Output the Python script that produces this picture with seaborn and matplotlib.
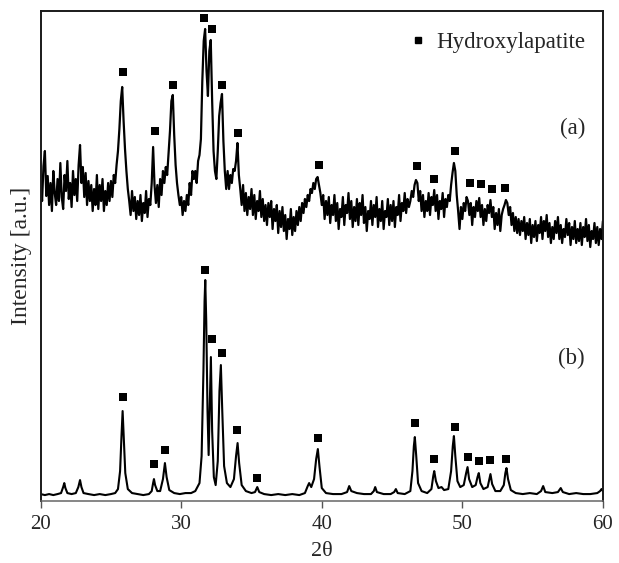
import numpy as np
import pandas as pd
import matplotlib
matplotlib.use("Agg")
import matplotlib.pyplot as plt
from matplotlib.lines import Line2D
import seaborn as sns

# ---------------- data ----------------
# trace (a): noisy pattern sampled every 0.1 deg from 20 to 60
a_counts = [
    320,300,335,350,305,325,296,318,290,330,
    308,296,322,300,338,304,292,326,310,340,
    302,318,294,330,306,322,300,336,356,318,
    334,304,328,296,320,300,316,290,312,296,
    326,292,316,300,322,290,310,296,318,300,
    320,304,326,318,336,350,372,400,414,380,
    352,330,312,300,286,310,290,304,282,300,
    286,306,280,298,288,310,284,302,296,318,
    354,316,298,316,294,322,306,330,318,334,
    326,348,370,400,406,366,336,318,306,296,
    304,286,300,290,306,296,318,306,330,322,
    330,318,340,346,362,420,460,472,430,405,
    450,461,400,350,330,322,350,385,398,407,
    360,330,312,330,312,326,318,332,330,340,
    358,326,312,296,316,290,308,286,304,292,
    312,286,306,282,300,290,310,284,302,280,
    296,276,298,284,300,272,292,280,296,268,
    290,274,294,270,286,262,282,272,292,266,
    284,270,290,276,294,280,298,288,302,294,
    306,300,312,308,318,312,322,324,316,308,
    296,306,282,300,286,304,278,296,286,306,
    280,298,272,292,284,304,276,296,288,308,
    282,300,274,294,280,302,276,298,286,306,
    278,294,270,290,282,300,276,296,284,304,
    274,292,280,300,272,290,284,302,276,296,
    280,300,274,294,286,306,280,298,290,308,
    288,302,294,300,310,304,316,321,318,300,
    310,290,306,284,300,290,308,286,304,296,
    311,290,306,282,300,292,308,284,302,294,
    306,300,316,328,338,330,306,290,272,294,
    282,298,290,304,300,286,298,276,294,284,
    300,290,303,284,296,276,292,280,296,288,
    301,284,294,272,288,276,292,270,286,292,
    296,301,298,286,294,276,288,270,284,268,
    282,266,280,270,284,262,278,266,282,258,
    276,264,280,260,276,268,284,262,280,270,
    286,264,278,258,274,262,280,268,284,262,
    276,258,272,264,282,266,278,256,274,262,
    280,258,272,260,278,256,274,264,282,260,
    276,254,270,262,278,258,274,256,272,262,
    280,
]
a_theta = np.linspace(20, 60, len(a_counts))

# trace (b): clean pattern
b_theta = [
    20.0,20.3,20.6,20.9,21.2,21.45,21.6,21.68,21.76,21.9,22.2,22.5,22.68,22.8,22.9,
    23.05,23.4,23.8,24.2,24.6,25.0,25.3,25.5,25.65,25.75,25.83,25.92,26.02,26.2,26.5,
    26.9,27.3,27.7,27.9,28.0,28.06,28.14,28.3,28.5,28.7,28.84,28.96,29.15,29.5,29.9,
    30.3,30.7,31.0,31.3,31.45,31.58,31.66,31.71,31.78,31.87,31.95,32.02,32.11,32.2,
    32.32,32.45,32.6,32.72,32.82,32.92,33.05,33.25,33.5,33.75,33.9,34.01,34.12,34.3,
    34.6,35.0,35.25,35.41,35.55,35.9,36.4,36.9,37.4,37.9,38.4,38.8,39.0,39.1,39.25,
    39.45,39.6,39.72,39.84,40.0,40.3,40.8,41.4,41.8,41.95,42.1,42.5,43.0,43.5,43.7,
    43.8,43.92,44.4,44.9,45.15,45.27,45.4,45.9,46.3,46.45,46.55,46.62,46.72,46.85,
    47.1,47.5,47.8,47.93,48.0,48.12,48.3,48.52,48.7,49.0,49.2,49.32,49.4,49.5,49.65,
    49.85,50.1,50.27,50.37,50.48,50.7,50.95,51.08,51.17,51.28,51.5,51.8,51.92,52.0,
    52.12,52.35,52.7,52.95,53.06,53.14,53.25,53.45,53.8,54.3,54.8,55.3,55.6,55.75,
    55.9,56.4,56.8,57.0,57.15,57.6,58.1,58.6,59.1,59.6,59.8,59.9,60.0,
]
b_counts = [
    7,6,7,6,7,8,14,18,13,8,7,8,14,21,14,
    8,7,6,7,6,7,8,12,30,65,90,60,28,12,8,
    7,6,7,10,18,22,16,10,10,22,38,24,11,8,7,
    8,8,10,18,45,130,200,221,180,90,46,90,144,70,
    24,16,40,110,136,90,35,18,14,22,45,58,38,16,
    10,8,9,14,9,7,6,7,6,7,6,8,15,18,14,
    22,42,52,34,13,8,7,7,9,15,10,8,7,7,10,
    14,9,7,7,9,12,8,7,10,30,55,64,45,18,
    10,8,12,25,30,20,13,14,11,12,30,55,65,45,20,
    14,16,28,34,22,14,16,24,28,18,12,14,22,27,
    17,10,10,16,28,33,22,11,8,7,8,7,10,15,
    9,8,9,13,9,7,8,7,7,8,10,12,10,
]

# Hydroxylapatite reflection markers
a_mark_theta = [25.87,28.13,29.39,31.64,32.20,32.92,34.05,39.79,46.74,47.99,49.49,50.53,51.34,52.12,53.04]
a_mark_counts = [429,370,416,483,472,416,368,336,335,322,350,318,317,312,313]
b_mark_theta = [25.83,28.06,28.84,31.71,32.18,32.89,33.98,35.38,39.72,46.62,47.99,49.47,50.37,51.17,52.00,53.14]
b_mark_counts = [104,37,51,231,162,148,71,23,63,78,42,74,44,40,41,42]

x_ticks = [20, 30, 40, 50, 60]
legend_label = "Hydroxylapatite"
trace_labels = ["(a)", "(b)"]

# ---------------- plotting ----------------
sns.set_style("white")
plt.rcParams["font.family"] = ["Liberation Serif", "DejaVu Serif"]
plt.rcParams["mathtext.fontset"] = "stix"

fig = plt.figure(figsize=(6.19, 5.63), dpi=100)
ax = fig.add_axes([0.0657, 0.110, 0.9083, 0.8705])

dfa = pd.DataFrame({"theta": a_theta, "counts": a_counts})
dfb = pd.DataFrame({"theta": b_theta, "counts": b_counts})
sns.lineplot(data=dfa, x="theta", y="counts", ax=ax, color="black", lw=1.6,
             estimator=None, sort=False)
sns.lineplot(data=dfb, x="theta", y="counts", ax=ax, color="black", lw=1.5,
             estimator=None, sort=False)

dfm = pd.DataFrame({"theta": a_mark_theta + b_mark_theta,
                    "counts": a_mark_counts + b_mark_counts})
sns.scatterplot(data=dfm, x="theta", y="counts", ax=ax, marker="s", s=28,
                color="black", edgecolor="black", linewidth=0)

ax.set_xlim(20, 60)
ax.set_ylim(0, 490)
ax.set_xticks(x_ticks)
ax.set_xticklabels([str(t) for t in x_ticks])
ax.set_yticks([])
ax.tick_params(axis="x", direction="out", length=5, width=1.0, color="#555555",
               labelsize=15, pad=5, bottom=True)
ax.set_xlabel("2θ", fontsize=16, labelpad=6)
ax.set_ylabel("Intensity [a.u.]", fontsize=17, labelpad=6)

for name, sp in ax.spines.items():
    sp.set_visible(True)
    sp.set_color("#1a1a1a")
    sp.set_linewidth(1.4)
ax.spines["bottom"].set_color("#666666")
ax.spines["bottom"].set_linewidth(1.1)

handle = Line2D([], [], marker="s", ls="", color="black", markersize=5)
ax.legend([handle], [legend_label], loc="center right",
          bbox_to_anchor=(0.968, 0.935), frameon=False, fontsize=16.5,
          handlelength=0.9, handletextpad=0.35, borderaxespad=0, borderpad=0)

ax.text(0.968, 0.761, trace_labels[0], transform=ax.transAxes, ha="right",
        va="center", fontsize=16.5)
ax.text(0.968, 0.292, trace_labels[1], transform=ax.transAxes, ha="right",
        va="center", fontsize=16.5)

fig.savefig("out.png", dpi=100)
